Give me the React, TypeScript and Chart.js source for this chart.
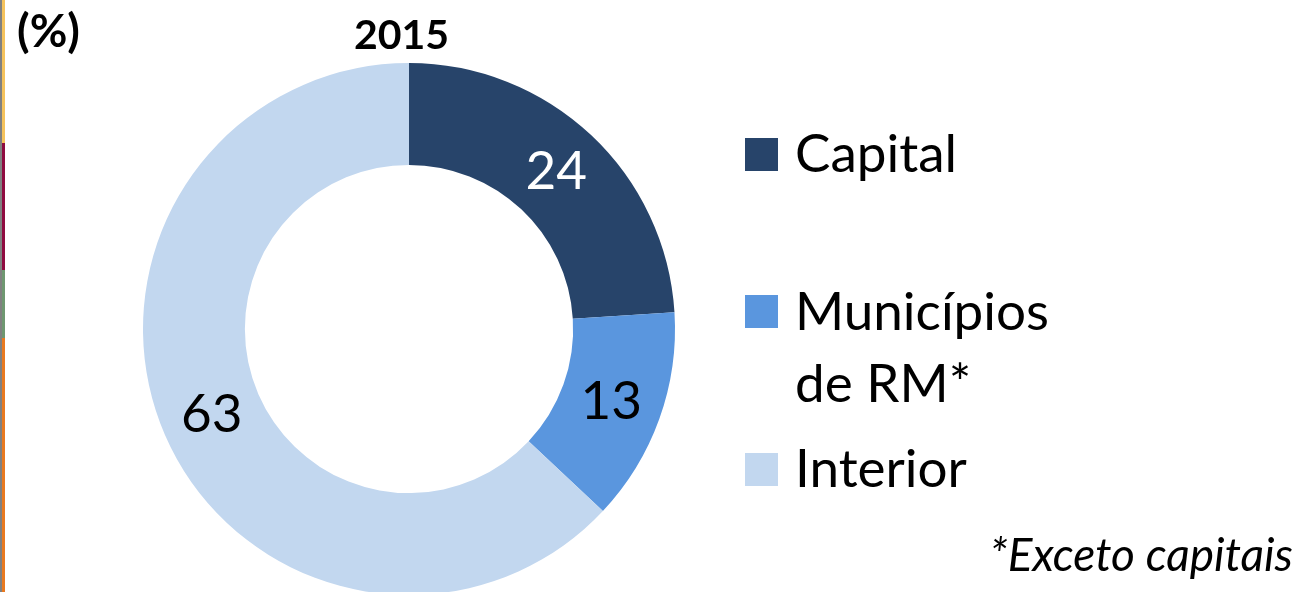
import React, { useEffect, useRef } from "react";
import { Chart, registerables } from "chart.js";

Chart.register(...registerables);

const categories = ["Capital", "Municípios de RM*", "Interior"];
const legendLines = [["Capital"], ["Municípios", "de RM*"], ["Interior"]];
const values = [24, 13, 63];
const colors = ["#27446A", "#5A96DE", "#C2D7EF"];
const labelColors = ["#FFFFFF", "#000000", "#000000"];
const titleText = "2015";
const unitText = "(%)";
const footnoteText = "*Exceto capitais";

const FONT = "Lato, 'Noto Sans', sans-serif";

const valueLabelPlugin = {
  id: "valueLabels",
  afterDatasetsDraw(chart: any) {
    const ctx = chart.ctx;
    const meta = chart.getDatasetMeta(0);
    ctx.save();
    ctx.font = `53px ${FONT}`;
    ctx.textAlign = "center";
    ctx.textBaseline = "middle";
    meta.data.forEach((arc: any, i: number) => {
      const p = arc.tooltipPosition();
      ctx.fillStyle = labelColors[i];
      ctx.fillText(String(values[i]), p.x, p.y);
    });
    ctx.restore();
  },
};

const stripes = [
  { top: 0, height: 143, color: "#F4C25C" },
  { top: 143, height: 127, color: "#8E0B3F" },
  { top: 270, height: 68, color: "#6E9770" },
  { top: 338, height: 254, color: "#E8791F" },
];

const legendTops = [116, 274, 431];
const squareTops = [138, 295, 453];

export default function App() {
  const canvasRef = useRef<HTMLCanvasElement>(null);

  useEffect(() => {
    document.body.style.margin = "0";
    const canvas = canvasRef.current!;
    const chart = new Chart(canvas, {
      type: "doughnut",
      data: {
        labels: categories,
        datasets: [
          {
            data: values,
            backgroundColor: colors,
            borderWidth: 0,
          },
        ],
      },
      options: {
        responsive: false,
        maintainAspectRatio: false,
        animation: false,
        cutout: "61.7%",
        layout: { padding: { left: 143, right: 631, top: 63, bottom: 45 } },
        plugins: {
          legend: { display: false },
          tooltip: { enabled: false },
          title: { display: false },
        },
      },
      plugins: [valueLabelPlugin],
    });
    return () => chart.destroy();
  }, []);

  return (
    <div
      style={{
        position: "relative",
        width: 1306,
        height: 592,
        overflow: "hidden",
        background: "#FFFFFF",
        fontFamily: FONT,
        color: "#000",
      }}
    >
      <canvas
        ref={canvasRef}
        width={1306}
        height={640}
        style={{ position: "absolute", left: 0, top: 0, width: 1306, height: 640 }}
      />
      {stripes.map((s, i) => (
        <React.Fragment key={i}>
          <div style={{ position: "absolute", left: 0, top: s.top, width: 2, height: s.height, background: "#808080" }} />
          <div style={{ position: "absolute", left: 2, top: s.top, width: 3, height: s.height, background: s.color }} />
        </React.Fragment>
      ))}
      <div
        style={{
          position: "absolute",
          left: 17,
          top: 7,
          fontSize: 46,
          lineHeight: "46px",
          fontWeight: 700,
          whiteSpace: "nowrap",
        }}
      >
        {unitText}
      </div>
      <div
        style={{
          position: "absolute",
          left: 354,
          top: 13,
          fontSize: 41,
          lineHeight: "41px",
          fontWeight: 700,
          whiteSpace: "nowrap",
        }}
      >
        {titleText}
      </div>
      {legendLines.map((lines, i) => (
        <React.Fragment key={i}>
          <div
            style={{
              position: "absolute",
              left: 745,
              top: squareTops[i],
              width: 33,
              height: 33,
              background: colors[i],
            }}
          />
          <div
            style={{
              position: "absolute",
              left: 795,
              top: legendTops[i],
              fontSize: 53,
              lineHeight: "72px",
              whiteSpace: "nowrap",
            }}
          >
            {lines.map((l, j) => (
              <div key={j}>{l}</div>
            ))}
          </div>
        </React.Fragment>
      ))}
      <div
        style={{
          position: "absolute",
          right: 13,
          top: 531,
          fontSize: 46,
          lineHeight: "46px",
          fontStyle: "italic",
          whiteSpace: "nowrap",
        }}
      >
        {footnoteText}
      </div>
    </div>
  );
}
